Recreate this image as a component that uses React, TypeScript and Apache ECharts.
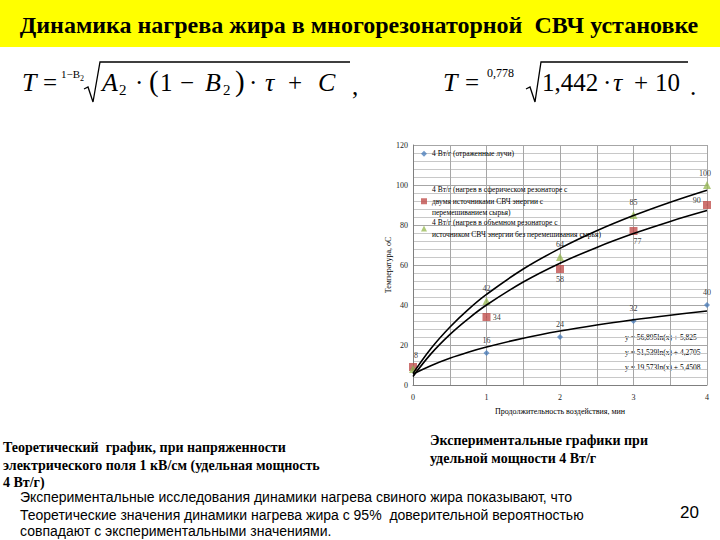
import React, { useEffect, useRef } from "react";
import * as echarts from "echarts";

// ---- data ----
const xTicks = [0, 1, 2, 3, 4];
const blueValues = [8, 16, 24, 32, 40];
const redValues = [9, 34, 58, 77, 90];
const greenValues = [8, 42, 64, 85, 100];
const trendX = [0, 0.25, 0.5, 0.75, 1, 1.5, 2, 2.5, 3, 3.5, 4];
const trendTop = [5.8, 18.5, 28.9, 37.7, 45.3, 58.0, 68.3, 77.1, 84.7, 91.4, 97.4];
const trendMid = [4.3, 15.8, 25.2, 33.1, 40.0, 51.5, 60.9, 68.8, 75.7, 81.8, 87.2];
const trendLow = [5.5, 9.8, 13.4, 16.4, 19.0, 23.4, 27.0, 30.0, 32.6, 34.9, 37.0];
const seriesNames = [
  "4 Вт/г (отраженные лучи)",
  "4 Вт/г (нагрев в сферическом резонаторе с\nдвумя источниками СВЧ энергии с\nперемешиванием сырья)",
  "4 Вт/г (нагрев в объемном резонаторе с\nисточником СВЧ энергии без перемешивания сырья)",
];
const equations = [
  "y = 56,895ln(x) + 5,825",
  "y = 51,539ln(x) + 4,2705",
  "y = 19,573ln(x) + 5,4508",
];
const yTicksMax = 120;

const SERIF = "'Liberation Serif', 'Times New Roman', serif";
const SANS = "'Liberation Sans', Arial, sans-serif";

// label placement (style only)
const greenLabelPos: any[] = [[3, -2], [0, -1], [0, -1], [0, -1], [-2, 0]];
const redLabelPos: any[] = [null, "right", "bottom", "bottom", "left"];
const blueLabelPos: any[] = [null, "top", "top", "top", "top"];

function txt(text: string, x: number, y: number, size: number, opts: any = {}) {
  return {
    type: "text",
    x,
    y,
    silent: true,
    style: {
      text,
      fontSize: size,
      fontFamily: opts.family || SERIF,
      fontStyle: opts.italic ? "italic" : "normal",
      fontWeight: opts.bold ? "bold" : "normal",
      fill: "#000",
      align: opts.align || "left",
      verticalAlign: "middle",
    },
  };
}

export default function App() {
  const ref = useRef<HTMLDivElement>(null);
  useEffect(() => {
    const chart = echarts.init(ref.current!, null, { renderer: "svg" });

    const labelBase = { show: true, fontFamily: SERIF, fontSize: 8, color: "#000" };

    const greenLabels = greenValues.map((v, i) => ({
      value: [xTicks[i], v],
      label: { ...labelBase, position: "top", distance: 7, offset: greenLabelPos[i] },
    }));
    const redLabels = redValues.map((v, i) => ({
      value: [xTicks[i], v],
      label: redLabelPos[i]
        ? { ...labelBase, position: redLabelPos[i], distance: 6, offset: i === 4 ? [0, -5] : i === 3 ? [4, 0] : [0, 0] }
        : { show: false },
    }));
    const blueLabels = blueValues.map((v, i) => ({
      value: [xTicks[i], v],
      label: blueLabelPos[i]
        ? { ...labelBase, position: blueLabelPos[i], distance: 8 }
        : { show: false },
    }));

    const labelSeries = (data: any[]) => ({
      type: "scatter",
      data,
      symbol: "circle",
      symbolSize: 0.4,
      itemStyle: { color: "#000" },
      silent: true,
      z: 6,
      legendHoverLink: false,
    });

    const trend = (vals: number[]) => ({
      type: "line",
      data: trendX.map((x, i) => [x, vals[i]]),
      smooth: 0.4,
      showSymbol: false,
      symbol: "none",
      silent: true,
      lineStyle: { color: "#000", width: 1.6 },
      z: 5,
      legendHoverLink: false,
    });

    const legendTops = [148, 184, 217];
    const legendShapes = ["diamond", "rect", "triangle"];
    const colors = ["#4F81BD", "#C0504D", "#9BBB59"];

    const graphic: any[] = [
      { type: "rect", shape: { x: 0, y: 0, width: 720, height: 47 }, style: { fill: "#FFFF00" }, silent: true },
      txt("Динамика нагрева жира в многорезонаторной  СВЧ установке", 359, 25, 24, { bold: true, align: "center" }),
      // formula 1
      txt("T", 22, 82, 26, { italic: true }),
      txt("=", 43, 82, 25),
      txt("1−B", 61, 74, 11),
      txt("2", 80, 78, 8),
      {
        type: "polyline",
        silent: true,
        shape: { points: [[84, 89], [88, 87], [93, 102], [100, 62], [350, 62]] },
        style: { stroke: "#000", lineWidth: 1.3, fill: null },
      },
      txt("A", 102, 82, 26, { italic: true }),
      txt("2", 119, 90, 15),
      txt("·", 135, 82, 25),
      txt("(", 149, 81, 29),
      txt("1", 160, 82, 25),
      txt("−", 180, 82, 25),
      txt("B", 205, 82, 26, { italic: true }),
      txt("2", 223, 90, 15),
      txt(")", 235, 81, 29),
      txt("·", 249, 82, 25),
      txt("τ", 265, 82, 26, { italic: true }),
      txt("+", 288, 82, 25),
      txt("C", 318, 82, 26, { italic: true }),
      txt(",", 352, 86, 25),
      // formula 2
      txt("T", 443, 82, 26, { italic: true }),
      txt("=", 465, 82, 25),
      txt("0,778", 487, 73, 12),
      {
        type: "polyline",
        silent: true,
        shape: { points: [[526, 89], [530, 87], [535, 102], [541, 62], [688, 62]] },
        style: { stroke: "#000", lineWidth: 1.3, fill: null },
      },
      txt("1,442", 542, 82, 25),
      txt("·", 603, 82, 25),
      txt("τ", 613, 82, 26, { italic: true }),
      txt("+", 634, 82, 25),
      txt("10", 655, 82, 25),
      txt(".", 690, 86, 25),
      // bottom texts
      txt("Теоретический  график, при напряженности", 3, 447, 14, { bold: true }),
      txt("электрического поля 1 кВ/см (удельная мощность", 3, 465, 14, { bold: true }),
      txt("4 Вт/г)", 3, 482, 14, { bold: true }),
      txt("Экспериментальные графики при", 430, 440, 14, { bold: true }),
      txt("удельной мощности 4 Вт/г", 430, 458, 14, { bold: true }),
      txt("Экспериментальные исследования динамики нагрева свиного жира показывают, что", 20, 497, 14, { family: SANS }),
      txt("Теоретические значения динамики нагрева жира с 95%  доверительной вероятностью", 20, 515, 14, { family: SANS }),
      txt("совпадают с экспериментальными значениями.", 20, 531, 14, { family: SANS }),
      txt("20", 680, 512, 17, { family: SANS }),
    ];
    // equations
    [337, 352, 367].forEach((y, i) => {
      graphic.push(txt(equations[i], 625, y, 7.5));
    });

    chart.setOption({
      animation: false,
      backgroundColor: "#fff",
      grid: { left: 413, top: 145, width: 294, height: 240, containLabel: false },
      legend: seriesNames.map((n, i) => ({
        data: [{ name: n, icon: legendShapes[i] }],
        left: 421,
        top: legendTops[i],
        orient: "vertical",
        itemWidth: 6,
        itemHeight: 6,
        padding: 0,
        selectedMode: false,
        textStyle: { fontFamily: SERIF, fontSize: 7.5, color: "#000", lineHeight: 11.5 },
      })),
      xAxis: {
        type: "value",
        min: 0,
        max: 4,
        interval: 0.5,
        name: "Продолжительность воздействия, мин",
        nameLocation: "middle",
        nameGap: 22,
        nameTextStyle: { fontFamily: SERIF, fontSize: 8, color: "#000" },
        axisLine: { show: true, lineStyle: { color: "#7F7F7F" } },
        axisTick: { show: false },
        axisLabel: {
          fontFamily: SERIF,
          fontSize: 8,
          color: "#222",
          margin: 8,
          formatter: (v: number) => (Number.isInteger(v) ? String(v) : ""),
        },
        splitLine: { show: true, lineStyle: { color: "#A6A6A6", width: 1 } },
      },
      yAxis: {
        type: "value",
        min: 0,
        max: yTicksMax,
        interval: 20,
        name: "Температура, оС",
        nameLocation: "middle",
        nameGap: 17,
        nameTextStyle: { fontFamily: SERIF, fontSize: 8, color: "#000" },
        axisLine: { show: true, lineStyle: { color: "#7F7F7F" } },
        axisTick: { show: false },
        axisLabel: { fontFamily: SERIF, fontSize: 8, color: "#222", margin: 5 },
        splitLine: { show: true, lineStyle: { color: "#A6A6A6", width: 1 } },
        minorTick: { show: false, splitNumber: 5 },
        minorSplitLine: { show: true, lineStyle: { color: "#C8C8C8", width: 1 } },
      },
      series: [
        {
          name: seriesNames[0],
          type: "scatter",
          data: blueValues.map((v, i) => [xTicks[i], v]),
          symbol: "diamond",
          symbolSize: 6,
          itemStyle: { color: colors[0] },
          z: 3,
        },
        {
          name: seriesNames[1],
          type: "scatter",
          data: redValues.map((v, i) => [xTicks[i], v]),
          symbol: "rect",
          symbolSize: 8,
          itemStyle: { color: colors[1] },
          z: 3,
        },
        {
          name: seriesNames[2],
          type: "scatter",
          data: greenValues.map((v, i) => [xTicks[i], v]),
          symbol: "triangle",
          symbolSize: 8,
          itemStyle: { color: colors[2] },
          z: 3,
        },
        trend(trendTop),
        trend(trendMid),
        trend(trendLow),
        labelSeries(blueLabels),
        labelSeries(redLabels),
        labelSeries(greenLabels),
      ],
      graphic,
    });
    return () => chart.dispose();
  }, []);
  return (
    <div
      ref={ref}
      style={{ position: "fixed", left: 0, top: 0, width: 720, height: 540, background: "#fff" }}
    />
  );
}
